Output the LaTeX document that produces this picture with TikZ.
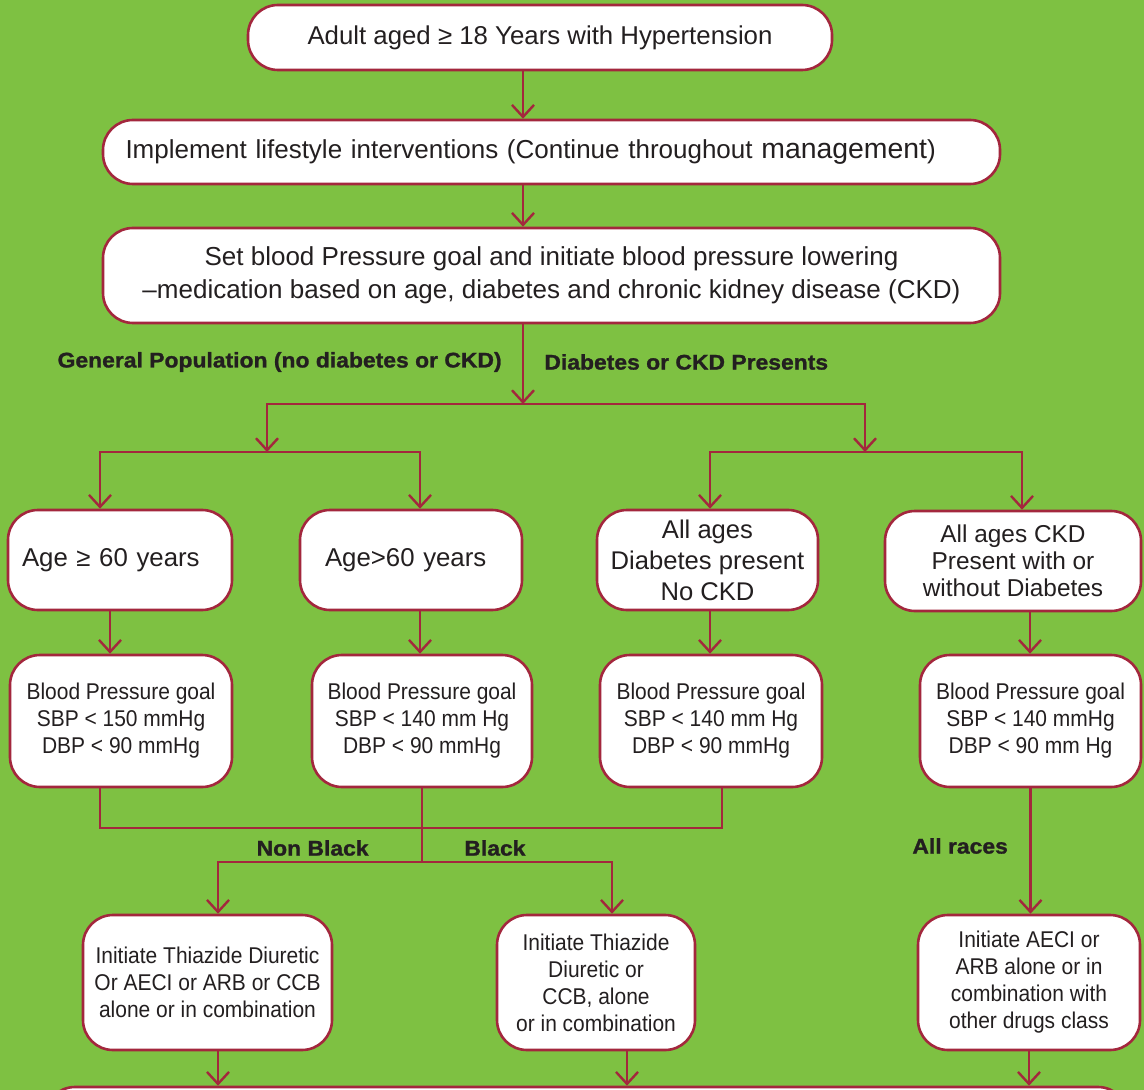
\documentclass[tikz,border=0pt]{standalone}
\usepackage{fontspec}
\setmainfont{Liberation Sans}
\newfontfamily\narrowfont[FakeStretch=0.92]{Liberation Sans}
\newfontfamily\heavyfont[FakeStretch=1.08,FakeBold=1.2]{Liberation Sans}
\usepackage{xcolor}
\usepackage{tikz}
\usetikzlibrary{arrows.meta,calc}
\definecolor{leaf}{HTML}{7EC142}
\definecolor{wine}{HTML}{A3273D}
\definecolor{ink}{HTML}{231F20}
\tikzstyle{box}=[draw=wine,line width=1.3pt,fill=white,rounded corners=15pt,align=center,inner sep=0pt,text=ink]
\tikzstyle{tag}=[inner sep=0pt,text=ink,font=\heavyfont\bfseries\fontsize{10.6}{12}\selectfont]
\tikzstyle{link}=[draw=wine,line width=1.2pt]
\tikzstyle{flow}=[link,-{Straight Barb[length=6pt,width=11pt,line width=1.2pt]}]
\tikzstyle{goalbox}=[box,minimum height=66pt,font=\narrowfont\fontsize{11.4}{13.5}\selectfont]
\tikzstyle{drugbox}=[box,minimum height=67.5pt,font=\narrowfont\fontsize{11.4}{13.5}\selectfont]

\begin{document}
\begin{tikzpicture}[x=0.5pt,y=-0.5pt]
\useasboundingbox (0,0) rectangle (1144,1090);
\clip (0,0) rectangle (1144,1090);
\fill[leaf] (0,0) rectangle (1144,1090);

\node[box,minimum width=292pt,minimum height=32.5pt,font=\fontsize{12.9}{15}\selectfont] (adult) at (540,37.5) {Adult aged ≥ 18 Years with Hypertension};
\node[box,minimum width=448.5pt,minimum height=32pt,text width=426pt,inner xsep=11.25pt,align=left,font=\fontsize{13}{15}\selectfont] (life) at (551.5,152) {Implement lifestyle interventions (Continue throughout {\fontsize{14.2}{15}\selectfont management})};
\node[box,minimum width=448.5pt,minimum height=47.5pt,font=\fontsize{13}{16.5}\selectfont] (goal) at (551.5,275.5) {Set blood Pressure goal and initiate blood pressure lowering\\--medication based on age, diabetes and chronic kidney disease (CKD)};

\node[tag,anchor=east] (general) at (502,362) {General Population (no diabetes or CKD)};
\node[tag,anchor=west] (present) at (544,362) {Diabetes or CKD Presents};

\node[box,minimum width=112pt,minimum height=50pt,text width=98pt,inner xsep=7pt,align=left,font=\fontsize{12.9}{15}\selectfont] (old) at (120,560) {Age ≥ 60 years};
\node[box,minimum width=111pt,minimum height=50pt,text width=86pt,inner xsep=12.5pt,align=left,font=\fontsize{12.9}{15}\selectfont] (young) at (411,560) {Age>60 years};
\node[box,minimum width=110.5pt,minimum height=50pt,font=\fontsize{12.8}{15.5}\selectfont] (diab) at (707.5,560) {All ages\\Diabetes present\\No CKD};
\node[box,minimum width=128pt,minimum height=50pt,font=\fontsize{12.2}{13.5}\selectfont] (ckd) at (1013,561) {All ages CKD\\Present with or\\without Diabetes};

\node[goalbox,minimum width=111pt] (goalold) at (121,721) {Blood Pressure goal\\SBP < 150 mmHg\\DBP < 90 mmHg};
\node[goalbox,minimum width=110pt] (goalyoung) at (422,721) {Blood Pressure goal\\SBP < 140 mm Hg\\DBP < 90 mmHg};
\node[goalbox,minimum width=111pt] (goaldiab) at (711,721) {Blood Pressure goal\\SBP < 140 mm Hg\\DBP < 90 mmHg};
\node[goalbox,minimum width=110.5pt] (goalckd) at (1030.5,721) {Blood Pressure goal\\SBP < 140 mmHg\\DBP < 90 mm Hg};

\node[tag,anchor=east] (nonblack) at (369,848) {Non Black};
\node[tag,anchor=west] (black) at (464,848) {Black};
\node[tag,anchor=west] (races) at (912,846) {All races};

\node[drugbox,minimum width=124.5pt] (drugsnb) at (207.5,982.5) {Initiate Thiazide Diuretic\\Or AECI or ARB or CCB\\alone or in combination};
\node[drugbox,minimum width=99pt] (drugsb) at (596,982.5) {Initiate Thiazide\\Diuretic or\\CCB, alone\\or in combination};
\node[drugbox,minimum width=111pt] (drugsckd) at (1029,982.5) {Initiate AECI or\\ARB alone or in\\combination with\\other drugs class};

\node[box,minimum width=541.5pt,minimum height=40pt] (final) at (586.5,1127) {};

\coordinate (fork) at (523,404);
\coordinate (genfork) at (267,452);
\coordinate (ckdfork) at (865,452);
\coordinate (merge) at (422,828);
\coordinate (race) at (422,862);
\coordinate (nbout) at ($(drugsnb.south)+(10.5,0)$);
\coordinate (bout) at ($(drugsb.south)+(31,0)$);

\draw[flow] (adult.south -| fork) -- (life.north -| fork);
\draw[flow] (life.south -| fork) -- (goal.north -| fork);
\draw[flow] (goal.south -| fork) -- (fork);
\draw[flow] (fork) -| (genfork);
\draw[flow] (fork) -| (ckdfork);
\draw[flow] (genfork) -| ($(old.north)+(-20,0)$);
\draw[flow] (genfork) -| ($(young.north)+(9,0)$);
\draw[flow] (ckdfork) -| ($(diab.north)+(2.5,0)$);
\draw[flow] (ckdfork) -| ($(ckd.north)+(9,0)$);

\draw[flow] ($(old.south)+(-10,0)$) -- ($(goalold.north)+(-11,0)$);
\draw[flow] ($(young.south)+(9,0)$) -- ($(goalyoung.north)+(-2,0)$);
\draw[flow] ($(diab.south)+(2.5,0)$) -- ($(goaldiab.north)+(-1,0)$);
\draw[flow] ($(ckd.south)+(17,0)$) -- ($(goalckd.north)+(-0.5,0)$);

\draw[link] ($(goalold.south)+(-21,0)$) |- (merge);
\draw[link] ($(goaldiab.south)+(11,0)$) |- (merge);
\draw[link] (goalyoung.south) -- (race);
\draw[flow] (race) -| ($(drugsnb.north)+(10.5,0)$);
\draw[flow] (race) -| ($(drugsb.north)+(16,0)$);
\draw[flow] (goalckd.south) -- (goalckd.south |- drugsckd.north);

\draw[flow] (nbout) -- (nbout |- final.north);
\draw[flow] (bout) -- (bout |- final.north);
\draw[flow] (drugsckd.south) -- (drugsckd.south |- final.north);
\end{tikzpicture}
\end{document}
